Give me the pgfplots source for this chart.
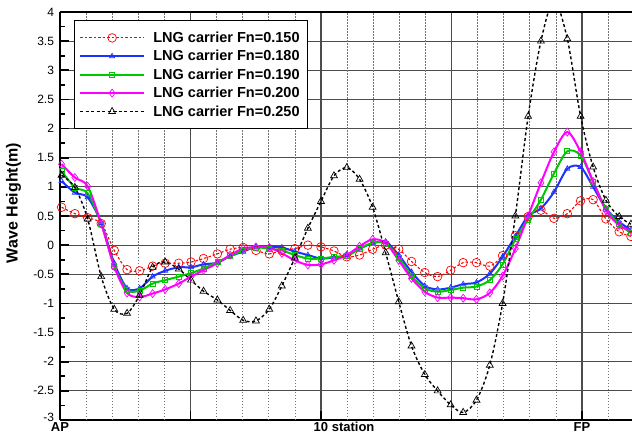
\documentclass[border=0pt]{standalone}
\usepackage{fontspec}
\setmainfont{Liberation Sans}
\usepackage{pgfplots}
\pgfplotsset{compat=1.18}

\definecolor{tpred}{RGB}{255,0,0}
\definecolor{tpblue}{RGB}{30,50,255}
\definecolor{tpgreen}{RGB}{0,200,0}
\definecolor{tpmag}{RGB}{255,0,255}

\begin{document}
\begin{tikzpicture}
\useasboundingbox (0,0) rectangle (632pt,437pt);
\begin{axis}[
    at={(60pt,17pt)}, anchor=south west,
    scale only axis, width=572pt, height=408pt,
    xmin=0, xmax=21.92, ymin=-3, ymax=4,
    axis y line*=left,
    axis line style={line width=1.8pt, black},
    xtick={0,5,10,15,20},
    xticklabels={AP,,10\rlap{ station},,FP},
    xtick pos=lower,
    ytick={-3,-2.5,...,4},
    yticklabels={\raisebox{5pt}{-3},-2.5,-2,-1.5,-1,-0.5,0,0.5,1,1.5,2,2.5,3,3.5,4},
    minor ytick={-2.75,-2.25,...,3.8},
    xmajorgrids, ymajorgrids,
    major grid style={line width=1.2pt, color=black!70},
    extra x ticks={1,2,3,4,6,7,8,9,11,12,13,14,16,17,18,19,21},
    extra x tick labels={},
    extra x tick style={major tick length=0pt,
        major grid style={line width=0.6pt, color=black!55, dash pattern=on 1.5pt off 1.5pt}},
    tick align=inside, major tick length=9pt, minor tick length=5pt,
    every tick/.style={black, line width=1.6pt},
    yticklabel style={font=\fontsize{12}{14}\selectfont, xshift=-2.5pt},
    xticklabel style={font=\fontsize{13}{15}\selectfont\bfseries, yshift=1pt},
    ylabel={Wave Height(m)},
    ylabel style={at={(axis description cs:-0.0813,0.532)}, anchor=center,
        font=\fontsize{16}{18}\selectfont\bfseries},
    legend style={at={(axis description cs:0.0245,0.9804)}, anchor=north west,
        draw=black, line width=1.4pt, fill=white, inner xsep=4.4pt, inner ysep=8pt,
        font=\fontsize{14.5}{17}\selectfont\bfseries, nodes={inner sep=3.2pt}},
    legend cell align=left,
    legend image code/.code={
        \draw[mark repeat=2,mark phase=2,#1] plot coordinates {(0pt,0pt) (32pt,0pt) (64pt,0pt)};
        \path (69pt,0pt);
    },
]

% Fn = 0.150
\addplot[tpred, line width=1.1pt, dash pattern=on 2.5pt off 2pt, smooth,
    mark=o, mark size=4.3pt, mark options={solid, line width=0.7pt}]
coordinates {
(0.06,0.65)(0.57,0.54)(1.06,0.47)(1.58,0.37)(2.08,-0.09)(2.57,-0.42)(3.05,-0.44)
(3.55,-0.36)(4.03,-0.31)(4.55,-0.31)(5.02,-0.29)(5.5,-0.23)(6.03,-0.15)(6.52,-0.07)
(7.02,-0.04)(7.51,-0.09)(8.02,-0.15)(8.5,-0.09)(9.0,-0.06)(9.5,0.0)(10.0,-0.03)
(10.5,-0.10)(10.99,-0.20)(11.48,-0.17)(11.98,-0.07)(12.48,0.0)(12.98,-0.07)(13.47,-0.28)
(13.98,-0.47)(14.47,-0.54)(14.97,-0.43)(15.45,-0.30)(15.96,-0.30)(16.47,-0.36)(16.96,-0.18)
(17.45,0.16)(17.94,0.49)(18.43,0.60)(18.93,0.46)(19.44,0.54)(19.95,0.76)(20.43,0.78)
(20.92,0.45)(21.43,0.23)(21.88,0.15)
};
\addlegendentry{LNG carrier Fn=0.150}

% Fn = 0.180
\addplot[tpblue, line width=2pt, smooth,
    mark=triangle, mark size=3pt, mark options={solid, line width=0.7pt}]
coordinates {
(0.06,1.10)(0.57,0.90)(1.06,0.82)(1.58,0.38)(2.08,-0.31)(2.57,-0.74)(3.05,-0.74)
(3.55,-0.54)(4.03,-0.44)(4.55,-0.38)(5.02,-0.38)(5.5,-0.33)(6.03,-0.30)(6.52,-0.19)
(7.02,-0.11)(7.51,-0.03)(8.02,-0.03)(8.5,-0.04)(9.0,-0.11)(9.5,-0.17)(10.0,-0.23)
(10.5,-0.21)(10.99,-0.17)(11.48,-0.06)(11.98,0.03)(12.48,0.06)(12.98,-0.17)(13.47,-0.46)
(13.98,-0.70)(14.47,-0.76)(14.97,-0.73)(15.45,-0.67)(15.96,-0.64)(16.47,-0.49)(16.96,-0.20)
(17.45,0.15)(17.94,0.50)(18.43,0.63)(18.93,0.91)(19.44,1.31)(19.95,1.34)(20.43,1.00)
(20.92,0.63)(21.43,0.40)(21.88,0.26)
};
\addlegendentry{LNG carrier Fn=0.180}

% Fn = 0.190
\addplot[tpgreen, line width=2pt, smooth,
    mark=square, mark size=2.5pt, mark options={solid, line width=0.7pt}]
coordinates {
(0.06,1.27)(0.57,0.99)(1.06,0.89)(1.58,0.37)(2.08,-0.36)(2.57,-0.77)(3.05,-0.78)
(3.55,-0.66)(4.03,-0.60)(4.55,-0.54)(5.02,-0.48)(5.5,-0.40)(6.03,-0.29)(6.52,-0.19)
(7.02,-0.09)(7.51,-0.04)(8.02,-0.06)(8.5,-0.09)(9.0,-0.17)(9.5,-0.23)(10.0,-0.23)
(10.5,-0.20)(10.99,-0.19)(11.48,-0.06)(11.98,0.04)(12.48,0.03)(12.98,-0.21)(13.47,-0.53)
(13.98,-0.74)(14.47,-0.80)(14.97,-0.77)(15.45,-0.73)(15.96,-0.71)(16.47,-0.60)(16.96,-0.33)
(17.45,0.10)(17.94,0.44)(18.43,0.78)(18.93,1.23)(19.44,1.61)(19.95,1.54)(20.43,1.09)
(20.92,0.63)(21.43,0.36)(21.88,0.21)
};
\addlegendentry{LNG carrier Fn=0.190}

% Fn = 0.200
\addplot[tpmag, line width=2pt, smooth,
    mark=diamond, mark size=4pt, mark options={solid, line width=0.7pt}]
coordinates {
(0.06,1.39)(0.57,1.16)(1.06,1.01)(1.58,0.37)(2.08,-0.37)(2.57,-0.82)(3.05,-0.89)
(3.55,-0.83)(4.03,-0.76)(4.55,-0.66)(5.02,-0.54)(5.5,-0.43)(6.03,-0.31)(6.52,-0.17)
(7.02,-0.06)(7.51,-0.03)(8.02,-0.04)(8.5,-0.14)(9.0,-0.26)(9.5,-0.34)(10.0,-0.33)
(10.5,-0.26)(10.99,-0.17)(11.48,-0.02)(11.98,0.10)(12.48,0.04)(12.98,-0.26)(13.47,-0.57)
(13.98,-0.80)(14.47,-0.90)(14.97,-0.90)(15.45,-0.91)(15.96,-0.93)(16.47,-0.82)(16.96,-0.53)
(17.45,-0.06)(17.94,0.50)(18.43,1.07)(18.93,1.60)(19.44,1.94)(19.95,1.60)(20.43,1.09)
(20.92,0.60)(21.43,0.34)(21.88,0.25)
};
\addlegendentry{LNG carrier Fn=0.200}

% Fn = 0.250
\addplot[black, line width=1.4pt, dash pattern=on 3pt off 2.5pt, smooth,
    mark=triangle, mark size=4pt, mark options={solid, line width=0.7pt}]
coordinates {
(0.06,1.20)(0.57,0.99)(1.06,0.45)(1.58,-0.54)(2.08,-1.10)(2.57,-1.17)(3.05,-0.86)
(3.55,-0.38)(4.03,-0.29)(4.55,-0.41)(5.02,-0.60)(5.5,-0.79)(6.03,-0.94)(6.52,-1.12)
(7.02,-1.29)(7.51,-1.30)(8.02,-1.10)(8.5,-0.70)(9.0,-0.22)(9.5,0.29)(10.0,0.75)
(10.5,1.19)(10.99,1.33)(11.48,1.13)(11.98,0.65)(12.48,-0.13)(12.98,-0.97)(13.47,-1.73)
(13.98,-2.22)(14.47,-2.50)(14.97,-2.74)(15.45,-2.87)(15.96,-2.66)(16.47,-2.06)(16.96,-1.00)
(17.45,0.50)(17.94,2.21)(18.43,3.50)(18.93,4.20)(19.44,3.54)(19.95,2.21)(20.43,1.34)
(20.92,0.77)(21.43,0.49)(21.88,0.36)
};
\addlegendentry{LNG carrier Fn=0.250}

\end{axis}
\end{tikzpicture}
\end{document}
